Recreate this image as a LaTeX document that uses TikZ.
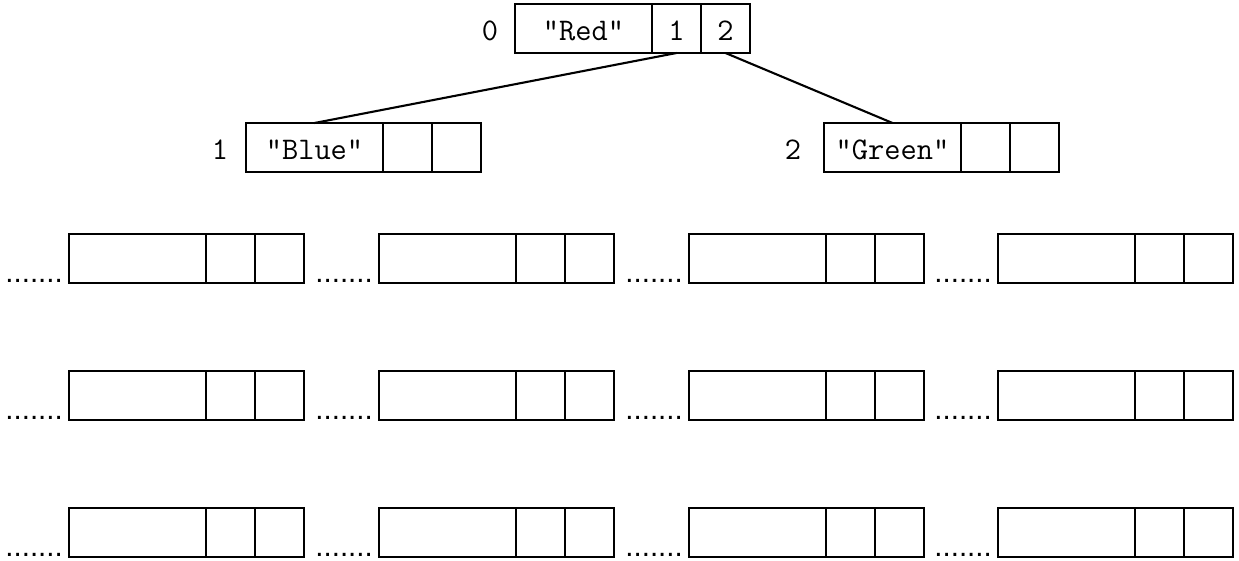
\documentclass[tikz,border=0pt]{standalone}
\usepackage{fontspec}
\newfontfamily\dotfont{Liberation Sans}
\tikzset{
  cell/.style={draw, line width=2.1pt, minimum height=49pt, inner sep=0pt, outer sep=0pt,
    anchor=north west, text height=24pt, text depth=0pt, font=\fontsize{31.5}{34}\selectfont\ttfamily},
  datacell/.style={cell, minimum width=137pt},
  ptrcell/.style={cell, minimum width=49pt},
  idx/.style={inner sep=0pt, anchor=base, font=\fontsize{31.5}{34}\selectfont\ttfamily},
  dotsty/.style={inner sep=0pt, anchor=base east, font=\fontsize{29.5}{32}\selectfont\dotfont},
  link/.style={line width=2.1pt}
}
\newcommand{\rec}[6]{%
  \node[datacell] (#1d) at (#2,#3) {#4};
  \node[ptrcell] (#1a) at (#1d.north east) {#5};
  \node[ptrcell] (#1b) at (#1a.north east) {#6};
}
\begin{document}
\begin{tikzpicture}[x=1pt,y=-1pt]
\useasboundingbox (0,0) rectangle (1239,560);
% top
\rec{n0}{515}{4}{"Red"}{1}{2}
\node[idx] (l0) at (490,40.5) {0};
\rec{n1}{246}{123}{"Blue"}{}{}
\node[idx] (l1) at (220,159) {1};
\rec{n2}{824}{123}{"Green"}{}{}
\node[idx] (l2) at (793,159) {2};
\draw[link] (n0a.south) -- (n1d.north);
\draw[link] (n0b.south) -- (n2d.north);
% rows
\foreach \r/\y in {1/234,2/371,3/508}{
  \foreach \c/\x in {1/69,2/379,3/689,4/998}{
    \rec{r\r c\c}{\x}{\y}{}{}{}
    \node[dotsty] (dots\r\c) at ([xshift=-6pt,yshift=1pt]r\r c\c d.south west) {.......};
  }
}
\end{tikzpicture}
\end{document}
